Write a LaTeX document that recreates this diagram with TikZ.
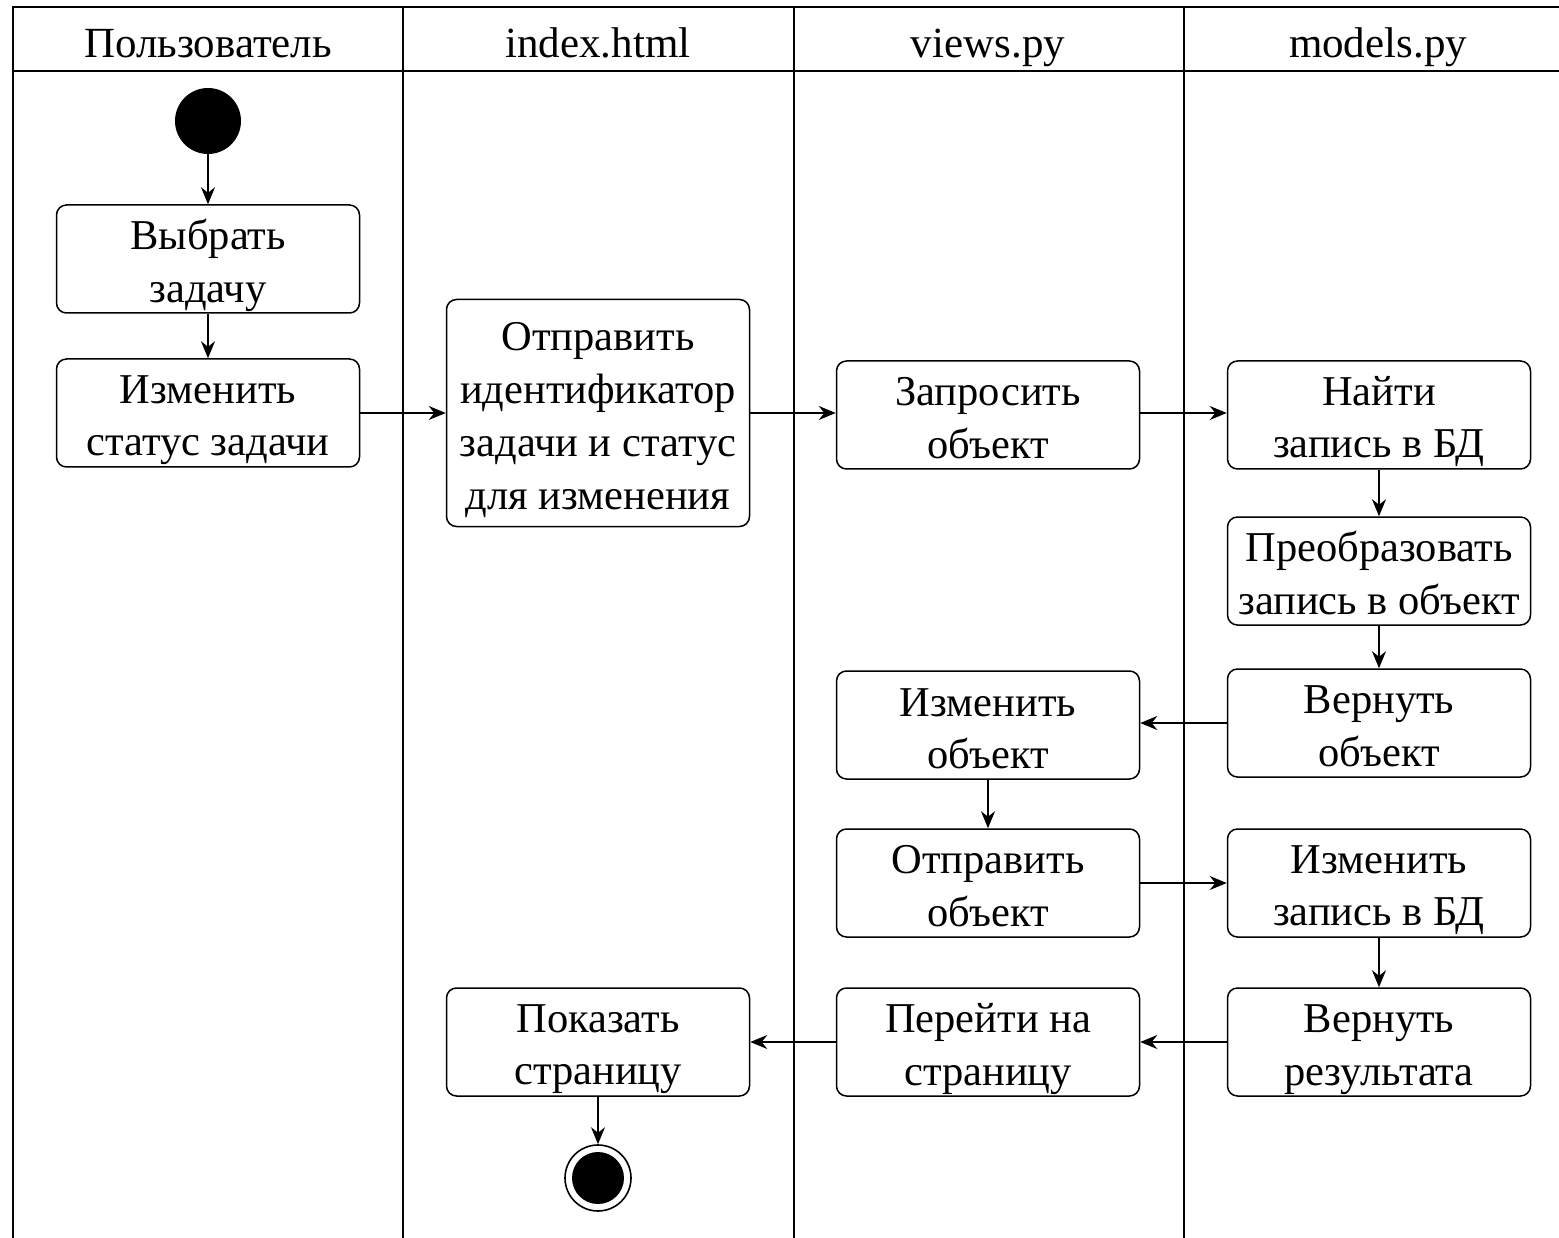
\documentclass[tikz,border=0pt]{standalone}
\usepackage{fontspec}
\setmainfont{Liberation Serif}
\usetikzlibrary{arrows.meta}
\newcommand{\lst}{\vrule height 43pt depth 9pt width 0pt\relax}
\begin{document}
\begin{tikzpicture}[x=1pt,y=-1pt,
  lane/.style={line width=1.6pt},
  act/.style={draw, line width=1.5pt, rounded corners=10pt, minimum width=303pt, minimum height=108pt, inner sep=0pt, align=center, font=\fontsize{42.5}{52}\selectfont},
  hdr/.style={font=\fontsize{43}{48}\selectfont, inner sep=0pt, anchor=base},
  flow/.style={line width=1.5pt, -{Stealth[length=17pt,width=14pt]}}
]
\useasboundingbox (0,0) rectangle (1559,1238);
% swimlane frame
\draw[lane] (1574,7) -- (13,7) -- (13,1245);
\draw[lane] (13,71) -- (1574,71);
\draw[lane] (403,7) -- (403,1245);
\draw[lane] (794,7) -- (794,1245);
\draw[lane] (1184,7) -- (1184,1245);
% headers
\node[hdr] (h1) at (208,58) {Пользователь};
\node[hdr] (h2) at (598,58) {index.html};
\node[hdr] (h3) at (988,58) {views.py};
\node[hdr] (h4) at (1378,58) {models.py};
% start
\node[circle, fill=black, minimum size=66pt, inner sep=0pt] (start) at (208,121) {};
% activities
\node[act] (a1) at (208,259) {\lst Выбрать\\ \lst задачу};
\node[act] (a2) at (208,413) {\lst Изменить\\ \lst статус задачи};
\node[act, minimum height=227pt] (a3) at (598,413) {\lst Отправить\\ \lst идентификатор\\ \lst задачи и статус\\ \lst для изменения};
\node[act] (a4) at (988,415) {\lst Запросить\\ \lst объект};
\node[act] (a5) at (1379,415) {\lst Найти\\ \lst запись в БД};
\node[act] (a6) at (1379,571) {\lst Преобразовать\\ \lst запись в объект};
\node[act] (a7) at (1379,723) {\lst Вернуть\\ \lst объект};
\node[act] (a8) at (988,725) {\lst Изменить\\ \lst объект};
\node[act] (a9) at (988,883) {\lst Отправить\\ \lst объект};
\node[act] (a10) at (1379,883) {\lst Изменить\\ \lst запись в БД};
\node[act] (a11) at (1379,1042) {\lst Вернуть\\ \lst результата};
\node[act] (a12) at (988,1042) {\lst Перейти на\\ \lst страницу};
\node[act] (a13) at (598,1042) {\lst Показать\\ \lst страницу};
% end
\node[circle, draw, line width=1.6pt, minimum size=66pt, inner sep=0pt] (end) at (598,1178) {};
\node[circle, fill=black, minimum size=52pt, inner sep=0pt] (endin) at (598,1178) {};
% flows
\draw[flow] (start) -- (a1);
\draw[flow] (a1) -- (a2);
\draw[flow] (a2.east) -- (a3.west);
\draw[flow] (a3.east) -- (a3.east -| a4.west);
\draw[flow] (a4.east |- a3.east) -- (a3.east -| a5.west);
\draw[flow] (a5) -- (a6);
\draw[flow] (a6) -- (a7);
\draw[flow] (a7.west) -- (a7.west -| a8.east);
\draw[flow] (a8) -- (a9);
\draw[flow] (a9) -- (a10);
\draw[flow] (a10) -- (a11);
\draw[flow] (a11) -- (a12);
\draw[flow] (a12) -- (a13);
\draw[flow] (a13) -- (end);
\end{tikzpicture}
\end{document}
